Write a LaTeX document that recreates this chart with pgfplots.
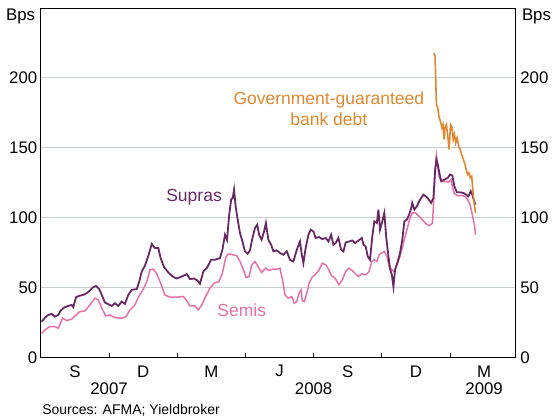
\documentclass[border=0pt]{standalone}
\usepackage{fontspec}
\setmainfont{Liberation Sans}
\usepackage{pgfplots}
\pgfplotsset{compat=1.18}
\definecolor{supras}{RGB}{104,40,100}
\definecolor{semis}{RGB}{232,112,165}
\definecolor{gov}{RGB}{224,135,45}
\definecolor{gridc}{RGB}{200,205,210}
\newcommand{\tlf}{\fontsize{16.8bp}{20bp}\selectfont}
\newcommand{\anf}{\fontsize{17.5bp}{21bp}\selectfont}
\begin{document}
\begin{tikzpicture}
\begin{axis}[
  name=ax, at={(0,0)}, anchor=south west,
  scale only axis, width=474.5bp, height=349.3bp,
  xmin=0, xmax=20.87, ymin=0, ymax=250,
  clip=false,
  axis line style={black, line width=0.9bp},
  ytick={0,50,100,150,200},
  ymajorgrids, grid style={gridc, line width=1bp},
  ytick style={draw=none},
  yticklabel style={font=\tlf},
  /pgf/number format/assume math mode=true,
  xtick={3,6,9,12,15,18}, xticklabels={},
  xtick style={black, line width=0.9bp},
  xtick pos=bottom, xtick align=inside,
  major tick length=4.7bp,
  extra x ticks={1.5,4.5,7.5,10.5,13.5,16.5,19.5},
  extra x tick labels={S,D,M,J,S,D,M},
  extra x tick style={major tick length=0pt, xticklabel style={font=\tlf, anchor=center, yshift=-14bp}},
]
\addplot[semis, line width=1.5bp] coordinates {
(0.04,17.2)(0.18,19.6)(0.40,22.0)(0.62,22.0)(0.77,20.8)(0.96,28.0)(1.14,26.3)(1.36,27.3)(1.55,30.3)(1.72,32.7)(1.94,33.2)(2.16,37.5)(2.38,42.3)(2.53,41.1)(2.68,35.2)(2.86,29.6)(3.04,30.3)(3.26,28.4)(3.56,28.0)(3.75,29.1)(3.92,33.9)(4.14,37.5)(4.29,43.0)(4.51,48.8)(4.66,54.2)(4.80,62.6)(4.95,63.1)(5.10,59.8)(5.27,53.1)(5.46,44.7)(5.68,43.0)(5.98,43.0)(6.27,43.5)(6.42,40.6)(6.56,36.8)(6.78,36.8)(6.93,33.9)(7.08,37.5)(7.25,43.5)(7.44,49.5)(7.63,53.1)(7.84,54.2)(7.99,60.3)(8.14,71.7)(8.25,74.1)(8.43,73.4)(8.62,72.7)(8.76,68.6)(8.91,62.6)(9.03,57.1)(9.16,57.8)(9.28,66.2)(9.42,68.6)(9.57,64.6)(9.71,60.7)(9.89,63.8)(10.04,62.1)(10.19,63.1)(10.38,63.1)(10.52,63.8)(10.63,55.5)(10.74,44.7)(10.89,42.3)(11.04,43.5)(11.15,38.7)(11.26,39.9)(11.36,45.9)(11.45,48.3)(11.50,40.6)(11.59,39.9)(11.70,45.9)(11.80,53.1)(11.94,57.4)(12.09,59.5)(12.24,62.6)(12.38,67.4)(12.53,66.2)(12.67,62.6)(12.79,58.3)(12.94,56.7)(13.11,51.9)(13.26,55.5)(13.41,61.4)(13.56,63.8)(13.70,62.1)(13.85,59.5)(13.97,57.8)(14.12,59.8)(14.29,59.0)(14.44,61.4)(14.56,68.6)(14.67,69.8)(14.78,68.6)(14.88,73.4)(14.99,74.6)(15.11,75.8)(15.22,72.2)(15.32,65.0)(15.44,62.6)(15.55,61.4)(15.66,66.2)(15.80,72.2)(15.95,81.8)(16.10,91.3)(16.24,99.7)(16.34,103.3)(16.49,103.3)(16.64,100.9)(16.78,98.5)(16.94,95.6)(17.08,94.2)(17.23,96.1)(17.29,115.2)(17.34,134.4)(17.40,144.4)(17.46,136.7)(17.53,128.4)(17.64,126.0)(17.78,126.0)(17.93,125.3)(18.04,127.2)(18.10,122.4)(18.19,117.1)(18.34,115.7)(18.52,115.7)(18.66,115.2)(18.78,112.8)(18.88,109.3)(18.98,102.1)(19.07,94.9)(19.12,87.7)
};
\addplot[supras, line width=1.8bp] coordinates {
(0.04,25.5)(0.18,28.4)(0.33,30.3)(0.48,31.1)(0.62,29.1)(0.77,30.3)(0.87,33.4)(1.02,35.6)(1.21,36.8)(1.36,37.5)(1.43,35.9)(1.55,43.0)(1.69,44.0)(1.87,44.7)(2.02,45.9)(2.16,47.8)(2.31,50.2)(2.43,51.1)(2.57,48.8)(2.68,44.7)(2.82,39.2)(2.97,38.0)(3.12,36.8)(3.26,38.7)(3.41,36.8)(3.56,39.9)(3.70,38.2)(3.85,44.7)(4.0,48.3)(4.22,48.8)(4.33,54.2)(4.44,61.4)(4.58,65.5)(4.73,72.7)(4.88,81.1)(5.02,78.2)(5.17,78.2)(5.27,71.0)(5.42,64.6)(5.61,60.7)(5.80,57.8)(5.98,56.4)(6.20,57.8)(6.42,59.5)(6.56,56.0)(6.74,56.4)(6.89,55.0)(7.0,52.6)(7.15,61.4)(7.30,63.8)(7.49,69.8)(7.66,69.8)(7.88,71.0)(7.99,77.0)(8.10,87.7)(8.19,84.1)(8.28,100.9)(8.37,112.8)(8.44,114.1)(8.50,120.0)(8.57,108.0)(8.66,98.5)(8.76,89.0)(8.87,82.9)(8.98,75.8)(9.10,74.1)(9.20,76.5)(9.31,85.4)(9.42,92.5)(9.52,94.9)(9.60,87.7)(9.71,84.1)(9.82,90.1)(9.90,96.1)(10.01,84.1)(10.13,80.6)(10.23,75.8)(10.38,76.5)(10.52,74.6)(10.67,73.4)(10.82,75.8)(10.96,69.8)(11.11,68.6)(11.26,77.0)(11.40,82.9)(11.48,73.4)(11.55,67.4)(11.65,78.2)(11.77,87.7)(11.87,91.3)(11.99,90.1)(12.09,85.4)(12.24,86.1)(12.38,84.6)(12.53,85.4)(12.65,82.9)(12.77,87.7)(12.87,80.6)(12.97,81.8)(13.09,85.4)(13.21,77.0)(13.31,75.8)(13.41,82.2)(13.56,82.9)(13.70,83.6)(13.82,81.8)(13.97,83.5)(14.12,85.4)(14.19,80.6)(14.29,79.3)(14.38,72.2)(14.48,69.8)(14.58,86.5)(14.67,97.3)(14.78,96.1)(14.85,105.7)(14.92,91.3)(15.02,97.3)(15.11,103.3)(15.19,86.5)(15.29,72.2)(15.37,62.6)(15.44,59.0)(15.51,50.6)(15.58,62.6)(15.70,68.6)(15.80,74.6)(15.90,84.1)(15.99,97.3)(16.10,98.5)(16.20,102.1)(16.29,106.9)(16.34,110.5)(16.43,105.7)(16.54,108.0)(16.68,112.8)(16.83,116.4)(16.94,115.2)(17.05,113.3)(17.17,110.5)(17.27,114.1)(17.34,133.1)(17.40,141.5)(17.46,137.9)(17.53,132.0)(17.61,126.0)(17.75,127.2)(17.90,128.4)(18.0,130.8)(18.10,130.1)(18.19,122.4)(18.30,118.1)(18.44,118.1)(18.59,117.6)(18.71,116.4)(18.81,115.2)(18.91,118.8)(18.98,116.4)(19.06,111.6)(19.12,109.3)
};
\addplot[gov, line width=1.6bp] coordinates {
(17.29,217.6)(17.34,215.6)(17.37,198.9)(17.40,181.0)(17.46,178.6)(17.52,171.5)(17.58,169.0)(17.64,164.3)(17.69,166.6)(17.74,155.9)(17.78,164.3)(17.84,166.6)(17.90,158.2)(17.96,148.7)(18.02,166.6)(18.08,165.0)(18.14,155.9)(18.19,159.5)(18.25,153.5)(18.31,157.1)(18.38,151.1)(18.45,148.7)(18.51,145.1)(18.59,141.5)(18.66,137.9)(18.73,133.1)(18.78,130.8)(18.83,132.0)(18.89,128.4)(18.95,129.6)(18.99,122.4)(19.03,114.1)(19.08,108.0)(19.12,103.3)
};
\node[supras, font=\anf] at (axis cs:6.74,114.3) {Supras};
\node[semis, font=\anf] at (axis cs:8.84,33.9) {Semis};
\node[gov, font=\anf, align=center] at (axis cs:12.67,177.8) {Government-guaranteed\\bank debt};
\node[font=\tlf, anchor=center] at (axis cs:3,0) [yshift=-31.7bp] {2007};
\node[font=\tlf, anchor=center] at (axis cs:12,0) [yshift=-31.7bp] {2008};
\node[font=\tlf, anchor=center] at (axis cs:19.5,0) [yshift=-31.7bp] {2009};
\node[font=\tlf, anchor=east, inner sep=0pt] at (rel axis cs:0,1) [xshift=-5.5bp, yshift=-8.7bp] {Bps};
\node[font=\tlf, anchor=west, inner sep=0pt] at (rel axis cs:1,1) [xshift=6.5bp, yshift=-8.7bp] {Bps};
\node[font=\fontsize{14bp}{17bp}\selectfont, anchor=west] at (rel axis cs:0,0) [xshift=-2bp, yshift=-52.7bp] {Sources: AFMA; Yieldbroker};
\end{axis}
\begin{axis}[
  at={(ax.south west)}, anchor=south west,
  scale only axis, width=474.5bp, height=349.3bp,
  xmin=0, xmax=20.87, ymin=0, ymax=250,
  hide x axis, axis y line*=right, y axis line style={draw=none},
  ytick={0,50,100,150,200}, ytick style={draw=none},
  yticklabel style={font=\tlf, xshift=1.5bp},
  /pgf/number format/assume math mode=true,
]
\end{axis}
\pgfresetboundingbox
\path[use as bounding box] (ax.south west) ++(-40.8bp,-62.7bp) rectangle ++(552bp,420bp);
\end{tikzpicture}
\end{document}
